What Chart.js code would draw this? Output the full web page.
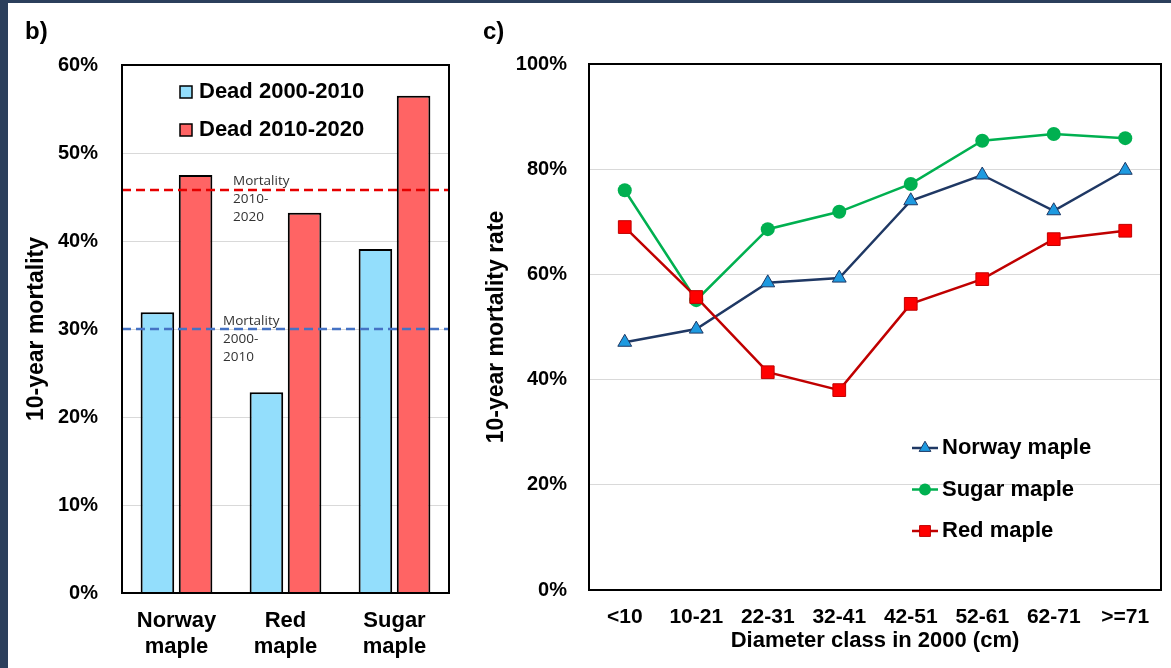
<!DOCTYPE html>
<html><head><meta charset="utf-8">
<script src="https://cdn.jsdelivr.net/npm/chart.js@4.4.1/dist/chart.umd.min.js"></script>
<style>
html,body{margin:0;padding:0;background:#fff;}
#wrap{position:relative;width:1171px;height:668px;overflow:hidden;background:#fff;}
#cb{position:absolute;left:0;top:0;}
#cc{position:absolute;left:470px;top:0;}
.navyTop{position:absolute;left:0;top:0;width:1171px;height:3px;background:#2b3f5c;z-index:5}
.navyLeft{position:absolute;left:0;top:0;width:8px;height:668px;background:#2b3f5c;z-index:5}
.panel{position:absolute;font:bold 24px 'Liberation Sans',Arial,sans-serif;line-height:24px;color:#000;z-index:4}
</style></head>
<body><div id="wrap">
<canvas id="cb" width="470" height="668"></canvas>
<canvas id="cc" width="701" height="668"></canvas>
<div class="navyTop"></div><div class="navyLeft"></div>
<div class="panel" style="left:25px;top:19px">b)</div>
<div class="panel" style="left:483px;top:19px">c)</div>
</div>
<script>
// ---------- Panel b data ----------
const speciesB = [['Norway','maple'],['Red','maple'],['Sugar','maple']];
const dead2000_2010 = [31.9, 22.8, 39.1];
const dead2010_2020 = [47.5, 43.2, 56.5];
const mortality2000_2010 = 30.0;
const mortality2010_2020 = 45.8;
const noteMort2000 = ['Mortality','2000-','2010'];
const noteMort2010 = ['Mortality','2010-','2020'];
const ticksB = [0,10,20,30,40,50,60];
const legendLabelsB = ['Dead 2000-2010','Dead 2010-2020'];

// ---------- Panel c data ----------
const diameterClasses = ['<10','10-21','22-31','32-41','42-51','52-61','62-71','>=71'];
const norwayMaple = [47.1, 49.6, 58.4, 59.3, 74.0, 78.9, 72.1, 79.8];
const sugarMaple  = [76.0, 55.1, 68.6, 71.9, 77.2, 85.4, 86.7, 85.9];
const redMaple    = [69.0, 55.7, 41.4, 38.0, 54.4, 59.1, 66.7, 68.3];
const ticksC = [0,20,40,60,80,100];
const seriesLabelsC = ['Norway maple','Sugar maple','Red maple'];

const FF = "'Liberation Sans', Arial, sans-serif";

const frame = {
  id:'frame',
  afterDatasetsDraw(chart){
    const a = chart.chartArea, ctx = chart.ctx;
    ctx.save(); ctx.lineWidth = 2; ctx.strokeStyle = '#000';
    ctx.strokeRect(a.left, a.top, a.right - a.left, a.bottom - a.top);
    ctx.restore();
  }
};

// dashed mean-mortality reference lines, placed through the y scale
const refLinesB = {
  id:'refLinesB',
  afterDatasetsDraw(chart){
    const ctx = chart.ctx, a = chart.chartArea, y = chart.scales.y;
    const lines = [[mortality2010_2020,'#E60000'],[mortality2000_2010,'#4472C4']];
    ctx.save();
    ctx.lineWidth = 2.5; ctx.setLineDash([9,5]);
    lines.forEach(([v,c])=>{
      const py = y.getPixelForValue(v);
      ctx.strokeStyle = c;
      ctx.beginPath(); ctx.moveTo(a.left, py); ctx.lineTo(a.right, py); ctx.stroke();
    });
    ctx.restore();
  }
};

const notesB = {
  id:'notesB',
  afterDatasetsDraw(chart){
    const ctx = chart.ctx, y = chart.scales.y;
    ctx.save();
    ctx.font = "13.5px 'Open Sans', sans-serif";
    ctx.fillStyle = '#333'; ctx.textAlign = 'left'; ctx.textBaseline = 'middle';
    const yr = y.getPixelForValue(mortality2010_2020);
    noteMort2010.forEach((t,i)=>ctx.fillText(t, 233, yr - 9 + i*18));
    const yb = y.getPixelForValue(mortality2000_2010);
    noteMort2000.forEach((t,i)=>ctx.fillText(t, 223, yb - 8 + i*18));
    ctx.restore();
  }
};

const legendB = {
  id:'legendB',
  afterDraw(chart){
    const ctx = chart.ctx, a = chart.chartArea;
    ctx.save();
    ctx.font = "bold 22px " + FF;
    ctx.textBaseline = 'middle'; ctx.textAlign = 'left';
    [0,1].forEach(i=>{
      const ds = chart.data.datasets[i];
      const cy = a.top + 27 + i*38;
      const bx = a.left + 58;
      ctx.fillStyle = ds.backgroundColor; ctx.fillRect(bx, cy-6, 12, 12);
      ctx.lineWidth = 1.5; ctx.strokeStyle = '#000'; ctx.strokeRect(bx, cy-6, 12, 12);
      ctx.fillStyle = '#000'; ctx.fillText(ds.label, bx + 19, cy);
    });
    ctx.restore();
  }
};

new Chart(document.getElementById('cb'), {
  type:'bar',
  data:{
    labels: speciesB,
    datasets:[
      {label:legendLabelsB[0], data:dead2000_2010, backgroundColor:'#93DEFC', borderColor:'#000', borderWidth:2},
      {label:legendLabelsB[1], data:dead2010_2020, backgroundColor:'#FF6464', borderColor:'#000', borderWidth:2}
    ]
  },
  options:{
    responsive:false, animation:false, devicePixelRatio:1,
    layout:{padding:{top:65, right:21, bottom:0, left:0}},
    plugins:{legend:{display:false}, tooltip:{enabled:false}},
    datasets:{bar:{categoryPercentage:0.7, barPercentage:0.88}},
    scales:{
      x:{
        type:'category', offset:true,
        grid:{display:false, drawTicks:false}, border:{display:false},
        ticks:{color:'#000', font:{family:FF, size:22, weight:'bold', lineHeight:1.18}, padding:15, maxRotation:0, autoSkip:false},
        afterFit(s){ s.height = 75; }
      },
      y:{
        min:0, max:60,
        afterBuildTicks(s){ s.ticks = ticksB.map(v=>({value:v})); },
        grid:{color:'#D9D9D9', lineWidth:1, drawTicks:false}, border:{display:false},
        ticks:{color:'#000', font:{family:FF, size:20, weight:'bold'}, padding:24, callback:v=>v+'%'},
        title:{display:true, text:'10-year mortality', color:'#000', font:{family:FF, size:23, weight:'bold'}, padding:{top:23, bottom:0}},
        afterFit(s){ s.width = 122; }
      }
    }
  },
  plugins:[refLinesB, frame, notesB, legendB]
});

function drawMarker(ctx, style, r, x, y){
  ctx.beginPath();
  if (style === 'triangle'){
    ctx.moveTo(x, y - r);
    ctx.lineTo(x + r*Math.sin(2*Math.PI/3), y - r*Math.cos(2*Math.PI/3));
    ctx.lineTo(x + r*Math.sin(4*Math.PI/3), y - r*Math.cos(4*Math.PI/3));
    ctx.closePath();
  } else if (style === 'rect'){
    const s = r*Math.SQRT1_2; ctx.rect(x - s, y - s, 2*s, 2*s);
  } else {
    ctx.arc(x, y, r, 0, Math.PI*2);
  }
  ctx.fill();
}

const legendC = {
  id:'legendC',
  afterDraw(chart){
    const ctx = chart.ctx, a = chart.chartArea;
    ctx.save();
    ctx.font = "bold 22px " + FF;
    ctx.textBaseline = 'middle'; ctx.textAlign = 'left';
    chart.data.datasets.forEach((ds,i)=>{
      const cy = a.top + 384 + i*41.5;
      const x0 = a.left + 323, x1 = a.left + 349, cx = (x0+x1)/2;
      ctx.strokeStyle = ds.borderColor; ctx.lineWidth = 2.5;
      ctx.beginPath(); ctx.moveTo(x0, cy); ctx.lineTo(x1, cy); ctx.stroke();
      ctx.fillStyle = ds.pointBackgroundColor;
      ctx.strokeStyle = ds.pointBorderColor; ctx.lineWidth = ds.pointBorderWidth;
      drawMarker(ctx, ds.pointStyle, ds.pointRadius*0.85, cx, cy);
      if (ds.pointBorderWidth > 0) ctx.stroke();
      ctx.fillStyle = '#000'; ctx.fillText(ds.label, x1 + 4, cy);
    });
    ctx.restore();
  }
};

new Chart(document.getElementById('cc'), {
  type:'line',
  data:{
    labels: diameterClasses,
    datasets:[
      {label:seriesLabelsC[0], data:norwayMaple, borderColor:'#1F3864', borderWidth:2.5, tension:0,
        pointStyle:'triangle', pointRadius:8, pointBackgroundColor:'#1E9AE0', pointBorderColor:'#1F3864', pointBorderWidth:1, order:2},
      {label:seriesLabelsC[1], data:sugarMaple, borderColor:'#00B050', borderWidth:2.5, tension:0,
        pointStyle:'circle', pointRadius:7, pointBackgroundColor:'#00B050', pointBorderColor:'#00B050', pointBorderWidth:0, order:1},
      {label:seriesLabelsC[2], data:redMaple, borderColor:'#C00000', borderWidth:2.5, tension:0,
        pointStyle:'rect', pointRadius:9, pointBackgroundColor:'#FF0000', pointBorderColor:'#C00000', pointBorderWidth:1, order:0}
    ]
  },
  options:{
    responsive:false, animation:false, devicePixelRatio:1,
    layout:{padding:{top:64, right:8, bottom:0, left:0}},
    plugins:{legend:{display:false}, tooltip:{enabled:false}},
    scales:{
      x:{
        type:'category', offset:true,
        grid:{display:false, drawTicks:false}, border:{display:false},
        ticks:{color:'#000', font:{family:FF, size:21, weight:'bold'}, padding:15, maxRotation:0, autoSkip:false},
        title:{display:true, text:'Diameter class in 2000 (cm)', color:'#000', font:{family:FF, size:22, weight:'bold'}, padding:{top:0, bottom:14}},
        afterFit(s){ s.height = 78; }
      },
      y:{
        min:0, max:100,
        afterBuildTicks(s){ s.ticks = ticksC.map(v=>({value:v})); },
        grid:{color:'#D9D9D9', lineWidth:1, drawTicks:false}, border:{display:false},
        ticks:{color:'#000', font:{family:FF, size:20, weight:'bold'}, padding:22, callback:v=>v+'%'},
        title:{display:true, text:'10-year mortality rate', color:'#000', font:{family:FF, size:23, weight:'bold'}, padding:{top:13, bottom:0}},
        afterFit(s){ s.width = 119; }
      }
    }
  },
  plugins:[frame, legendC]
});
</script>
</body></html>
